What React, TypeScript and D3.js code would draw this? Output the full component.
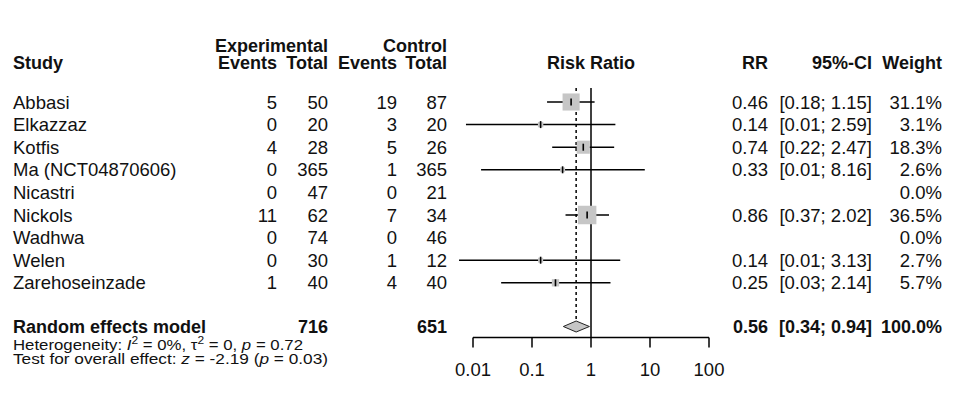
import * as d3 from "d3";

const studies = [
  "Abbasi",
  "Elkazzaz",
  "Kotfis",
  "Ma (NCT04870606)",
  "Nicastri",
  "Nickols",
  "Wadhwa",
  "Welen",
  "Zarehoseinzade",
];
const expEvents = [5, 0, 4, 0, 0, 11, 0, 0, 1];
const expTotal = [50, 20, 28, 365, 47, 62, 74, 30, 40];
const ctrlEvents = [19, 3, 5, 1, 0, 7, 0, 1, 4];
const ctrlTotal = [87, 20, 26, 365, 21, 34, 46, 12, 40];
// risk ratio and 95% CI (null = not estimable)
const rr: (number | null)[] = [0.46, 0.14, 0.74, 0.33, null, 0.86, null, 0.14, 0.25];
const lower: (number | null)[] = [0.18, 0.0076, 0.22, 0.0137, null, 0.37, null, 0.0058, 0.03];
const upper: (number | null)[] = [1.15, 2.59, 2.47, 8.16, null, 2.02, null, 3.13, 2.14];
const weight = [31.1, 3.1, 18.3, 2.6, 0.0, 36.5, 0.0, 2.7, 5.7];

const pooled = { rr: 0.56, lower: 0.34, upper: 0.94, weight: 100.0 };
const axisTicks = [0.01, 0.1, 1, 10, 100];
const heterogeneity = { i2: "0%", tau2: "0", p: "0.72" };
const overall = { z: "-2.19", p: "0.03" };

const FONT = "'Liberation Sans', Arial, sans-serif";

export default function App() {
  const width = 961;
  const height = 396;

  const x = d3.scaleLog().domain([0.01, 100]).range([473, 709]);
  const y = d3.scaleLinear().domain([0, studies.length - 1]).range([102, 282.8]);
  const side = d3.scaleSqrt().domain([0, d3.max(weight)!]).range([0, 18.5]);

  const yPooled = 326.5;
  const yAxis = 337.5;
  const yTop = 88;
  const fs = 18.5;
  const base = (c: number) => c + 6.5; // text centre -> baseline

  const col = {
    study: 13,
    expEv: 277,
    expTot: 328,
    ctrlEv: 397,
    ctrlTot: 447,
    rr: 768,
    ci: 872,
    w: 942,
  };

  const fmt = (v: number) => v.toFixed(2);

  return (
    <svg
      width={width}
      height={height}
      style={{ position: "absolute", left: 0, top: 0, background: "#fff" }}
      fontFamily={FONT}
      fontSize={fs}
      fill="#111"
    >
      {/* headers */}
      <g fontWeight="bold" fontSize={18}>
        <text x={col.expTot} y={base(45.5)} textAnchor="end">Experimental</text>
        <text x={col.ctrlTot} y={base(45.5)} textAnchor="end">Control</text>
        <text x={col.study} y={base(62)}>Study</text>
        <text x={col.expEv} y={base(62)} textAnchor="end">Events</text>
        <text x={col.expTot} y={base(62)} textAnchor="end">Total</text>
        <text x={col.ctrlEv} y={base(62)} textAnchor="end">Events</text>
        <text x={col.ctrlTot} y={base(62)} textAnchor="end">Total</text>
        <text x={x(1)} y={base(62)} textAnchor="middle">Risk Ratio</text>
        <text x={col.rr} y={base(62)} textAnchor="end">RR</text>
        <text x={col.ci} y={base(62)} textAnchor="end">95%-CI</text>
        <text x={col.w} y={base(62)} textAnchor="end">Weight</text>
      </g>

      {/* study rows */}
      {studies.map((s, i) => {
        const cy = y(i);
        const r = rr[i];
        return (
          <g key={s}>
            <text x={col.study} y={base(cy)}>{s}</text>
            <text x={col.expEv} y={base(cy)} textAnchor="end">{expEvents[i]}</text>
            <text x={col.expTot} y={base(cy)} textAnchor="end">{expTotal[i]}</text>
            <text x={col.ctrlEv} y={base(cy)} textAnchor="end">{ctrlEvents[i]}</text>
            <text x={col.ctrlTot} y={base(cy)} textAnchor="end">{ctrlTotal[i]}</text>
            {r !== null && (
              <>
                <text x={col.rr} y={base(cy)} textAnchor="end">{fmt(r)}</text>
                <text x={col.ci} y={base(cy)} textAnchor="end">
                  {`[${fmt(lower[i]!)}; ${fmt(upper[i]!)}]`}
                </text>
              </>
            )}
            <text x={col.w} y={base(cy)} textAnchor="end">{weight[i].toFixed(1) + "%"}</text>
          </g>
        );
      })}

      {/* reference line at RR = 1 */}
      <line x1={x(1)} x2={x(1)} y1={yTop} y2={yAxis} stroke="#000" strokeWidth={1.5} />
      {/* pooled estimate dotted line */}
      <line
        x1={x(pooled.rr)}
        x2={x(pooled.rr)}
        y1={yTop}
        y2={yPooled - 5.5}
        stroke="#000"
        strokeWidth={1.5}
        strokeDasharray="3,3"
      />

      {/* CIs, squares and point marks */}
      {studies.map((s, i) => {
        const r = rr[i];
        if (r === null) return null;
        const cy = y(i);
        const a = side(weight[i]);
        return (
          <g key={s + "-mark"}>
            <line x1={x(lower[i]!)} x2={x(upper[i]!)} y1={cy} y2={cy} stroke="#000" strokeWidth={1.5} />
            <rect x={x(r) - a / 2} y={cy - a / 2} width={a} height={a} fill="#c6c6c6" />
            <line x1={x(r)} x2={x(r)} y1={cy - 3.5} y2={cy + 3.5} stroke="#000" strokeWidth={1.6} />
          </g>
        );
      })}

      {/* pooled row */}
      <g fontWeight="bold" fontSize={18}>
        <text x={col.study} y={base(yPooled)}>Random effects model</text>
        <text x={col.expTot} y={base(yPooled)} textAnchor="end">{d3.sum(expTotal)}</text>
        <text x={col.ctrlTot} y={base(yPooled)} textAnchor="end">{d3.sum(ctrlTotal)}</text>
        <text x={col.rr} y={base(yPooled)} textAnchor="end">{fmt(pooled.rr)}</text>
        <text x={col.ci} y={base(yPooled)} textAnchor="end">
          {`[${fmt(pooled.lower)}; ${fmt(pooled.upper)}]`}
        </text>
        <text x={col.w} y={base(yPooled)} textAnchor="end">{pooled.weight.toFixed(1) + "%"}</text>
      </g>
      <path
        d={`M${x(pooled.lower)},${yPooled} L${x(pooled.rr)},${yPooled - 5.5} L${x(pooled.upper)},${yPooled} L${x(pooled.rr)},${yPooled + 5.5} Z`}
        fill="#c6c6c6"
        stroke="#222"
        strokeWidth={1}
      />

      {/* axis */}
      <g stroke="#000" strokeWidth={1.5}>
        <line x1={x(0.01)} x2={x(100)} y1={yAxis} y2={yAxis} />
        {axisTicks.map((t) => (
          <line key={t} x1={x(t)} x2={x(t)} y1={yAxis} y2={yAxis + 10} />
        ))}
      </g>
      {axisTicks.map((t) => (
        <text key={"l" + t} x={x(t)} y={base(369.5)} textAnchor="middle">
          {String(t)}
        </text>
      ))}

      {/* heterogeneity and overall effect */}
      <text x={col.study} y={349.5} fontSize={14} textLength={290} lengthAdjust="spacingAndGlyphs">
        Heterogeneity: <tspan fontStyle="italic">I</tspan>
        <tspan dy={-6} fontSize={10}>2</tspan>
        <tspan dy={6}>{` = ${heterogeneity.i2}, \u03c4`}</tspan>
        <tspan dy={-6} fontSize={10}>2</tspan>
        <tspan dy={6}>{` = ${heterogeneity.tau2}, `}</tspan>
        <tspan fontStyle="italic">p</tspan>
        {` = ${heterogeneity.p}`}
      </text>
      <text x={col.study} y={363.5} fontSize={14} textLength={315} lengthAdjust="spacingAndGlyphs">
        Test for overall effect: <tspan fontStyle="italic">z</tspan>
        {` = ${overall.z} (`}
        <tspan fontStyle="italic">p</tspan>
        {` = ${overall.p})`}
      </text>
    </svg>
  );
}
